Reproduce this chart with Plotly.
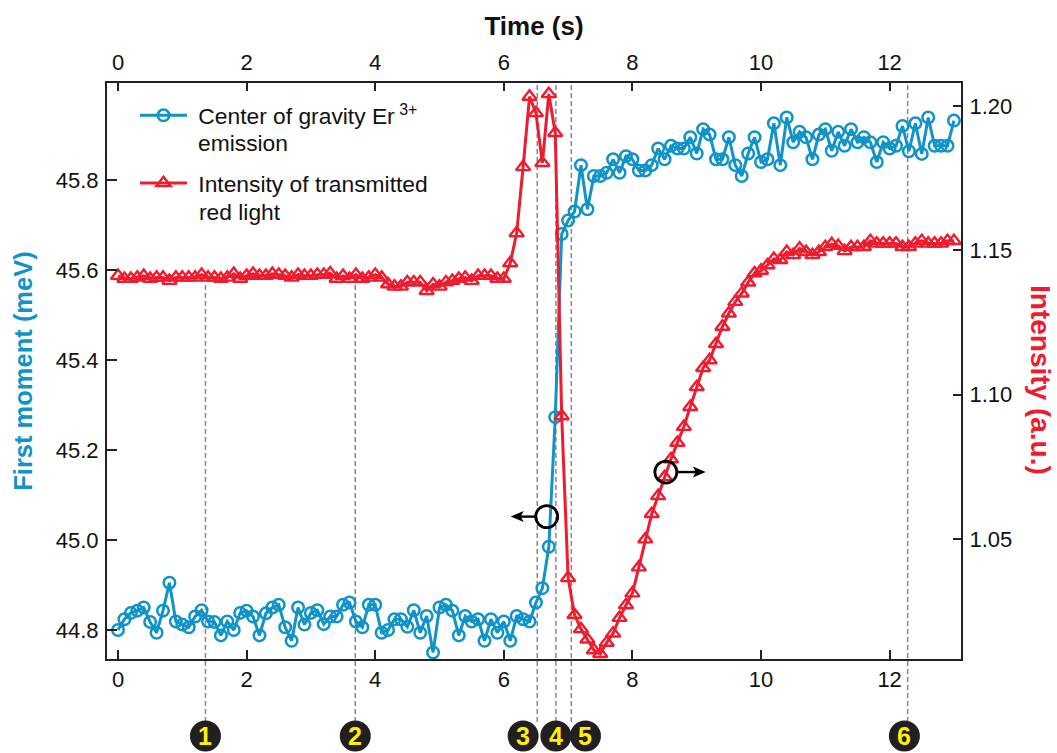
import plotly.graph_objects as go

times = [0.0,0.1,0.2,0.3,0.4,0.5,0.6,0.7,0.8,0.9,1.0,1.1,1.2,1.3,1.4,1.5,1.6,1.7,1.8,1.9,
 2.0,2.1,2.2,2.3,2.4,2.5,2.6,2.7,2.8,2.9,3.0,3.1,3.2,3.3,3.4,3.5,3.6,3.7,3.8,3.9,
 4.0,4.1,4.2,4.3,4.4,4.5,4.6,4.7,4.8,4.9,5.0,5.1,5.2,5.3,5.4,5.5,5.6,5.7,5.8,5.9,
 6.0,6.1,6.2,6.3,6.4,6.5,6.6,6.7,6.8,6.9,7.0,7.1,7.2,7.3,7.4,7.5,7.6,7.7,7.8,7.9,
 8.0,8.1,8.2,8.3,8.4,8.5,8.6,8.7,8.8,8.9,9.0,9.1,9.2,9.3,9.4,9.5,9.6,9.7,9.8,9.9,
 10.0,10.1,10.2,10.3,10.4,10.5,10.6,10.7,10.8,10.9,11.0,11.1,11.2,11.3,11.4,11.5,11.6,11.7,11.8,11.9,
 12.0,12.1,12.2,12.3,12.4,12.5,12.6,12.7,12.8,12.9,13.0]

first_moment = [44.80,44.824,44.838,44.843,44.85,44.818,44.794,44.843,44.905,44.819,44.812,44.806,44.83,44.844,44.819,44.818,44.788,44.819,44.80,44.838,
 44.843,44.83,44.788,44.837,44.85,44.856,44.806,44.776,44.85,44.812,44.838,44.844,44.813,44.83,44.83,44.856,44.861,44.819,44.806,44.856,
 44.856,44.794,44.80,44.824,44.824,44.807,44.844,44.794,44.831,44.75,44.85,44.856,44.843,44.788,44.831,44.819,44.824,44.776,44.824,44.794,
 44.819,44.776,44.831,44.824,44.819,44.861,44.893,44.985,45.273,45.68,45.71,45.73,45.833,45.735,45.809,45.809,45.816,45.846,45.816,45.853,
 45.846,45.821,45.821,45.833,45.87,45.846,45.876,45.87,45.87,45.895,45.859,45.913,45.901,45.846,45.846,45.895,45.833,45.809,45.859,45.895,
 45.84,45.846,45.926,45.833,45.939,45.884,45.907,45.895,45.846,45.901,45.913,45.865,45.907,45.876,45.913,45.884,45.895,45.884,45.84,45.884,
 45.87,45.876,45.92,45.864,45.926,45.858,45.939,45.876,45.876,45.876,45.932]

intensity = [1.1412,1.1402,1.1402,1.1406,1.1412,1.1402,1.1406,1.1406,1.1395,1.1406,1.1406,1.1406,1.1406,1.1416,1.1406,1.1406,1.1402,1.1406,1.1419,1.1402,
 1.1412,1.1419,1.1412,1.1412,1.1419,1.1416,1.1412,1.1406,1.1416,1.1412,1.1412,1.1416,1.1416,1.1421,1.1402,1.1412,1.1402,1.1416,1.1402,1.1406,
 1.1416,1.1406,1.1383,1.1375,1.1375,1.139,1.139,1.139,1.136,1.1383,1.1375,1.139,1.1395,1.1402,1.1406,1.1395,1.1412,1.1412,1.1412,1.1402,
 1.1402,1.1456,1.156,1.1789,1.2033,1.1976,1.1803,1.2042,1.1907,1.0926,1.0365,1.0237,1.0188,1.0152,1.0115,1.0102,1.0141,1.0173,1.0227,1.0271,
 1.0312,1.0402,1.0499,1.0587,1.0649,1.0715,1.0777,1.0834,1.0889,1.0958,1.1027,1.1093,1.112,1.1176,1.1236,1.1282,1.1322,1.1351,1.1389,1.1421,
 1.143,1.1449,1.1471,1.1467,1.1495,1.1484,1.1507,1.1495,1.1484,1.1495,1.1512,1.1522,1.1516,1.1498,1.1512,1.1512,1.1512,1.1533,1.1524,1.1524,
 1.1524,1.1524,1.1512,1.1512,1.1524,1.1533,1.1524,1.1524,1.1524,1.1533,1.1533]

time_ticks = [0, 2, 4, 6, 8, 10, 12]
moment_ticks = [44.8, 45.0, 45.2, 45.4, 45.6, 45.8]
intensity_ticks = [1.05, 1.10, 1.15, 1.20]

event_times = [1.36, 3.69, 6.52, 6.81, 7.05, 12.28]
event_tops = [0.653, 0.653, 1.0, 1.0, 1.0, 1.0]
badge_labels = ["1", "2", "3", "4", "5", "6"]
badge_times = [1.36, 3.69, 6.30, 6.81, 7.27, 12.23]

BLUE = "#0f93c8"
RED = "#ee1c2e"
INK = "#222222"
FONT = "Liberation Sans"

W, H = 1057, 753
L, R, T, B = 107, 961, 83, 659
PW, PH = R - L, B - T

fig = go.Figure()
fig.add_trace(go.Scatter(
    x=times, y=first_moment, xaxis="x", yaxis="y", mode="lines+markers",
    name="\u00a0Center of gravity Er<sup> 3+</sup>", legendgroup="a",
    line=dict(color=BLUE, width=3),
    marker=dict(symbol="circle-open", size=11.5, color=BLUE, line=dict(width=2.5, color=BLUE)),
    cliponaxis=False,
))
fig.add_trace(go.Scatter(
    x=times, y=intensity, xaxis="x2", yaxis="y2", mode="lines+markers",
    name="\u00a0Intensity of transmitted", legendgroup="b",
    line=dict(color=RED, width=3),
    marker=dict(symbol="triangle-up-open", size=12.5, color=RED, line=dict(width=2.4, color=RED)),
    cliponaxis=False,
))

xrange_ = [-0.171, 13.11]
common = dict(showgrid=False, zeroline=False, showline=True, linecolor=INK, linewidth=2,
              ticks="inside", tickcolor=INK, tickwidth=1.5, mirror=False,
              tickfont=dict(family=FONT, size=22, color="#111111"))

shapes = []
for t, top in zip(event_times, event_tops):
    shapes.append(dict(type="line", xref="x", yref="paper", x0=t, x1=t,
                       y0=-0.1094, y1=top, layer="below",
                       line=dict(color="#808080", width=1.4, dash="5px,3px")))
for t in badge_times:
    shapes.append(dict(type="circle", xref="x", yref="paper", xsizemode="pixel", ysizemode="pixel",
                       xanchor=t, yanchor=-0.1337, x0=-15.5, x1=15.5, y0=-15.5, y1=15.5,
                       fillcolor="#231f20", line=dict(width=0)))
# open rings with arrows that tie each curve to its axis: (x, y, direction, arrow reach in px)
ring_points = [(6.667, 45.052, -1, 36), (8.52, 45.151, 1, 40)]
for cx, cy, d, reach in ring_points:
    common_ring = dict(xref="x", yref="y", xsizemode="pixel", ysizemode="pixel", xanchor=cx, yanchor=cy)
    shapes.append(dict(type="circle", x0=-11, x1=11, y0=-11, y1=11,
                       line=dict(color="#000000", width=2.8), fillcolor="rgba(0,0,0,0)", **common_ring))
    shapes.append(dict(type="line", x0=d * 11, x1=d * (reach - 7), y0=0, y1=0,
                       line=dict(color="#000000", width=2.4), **common_ring))
    shapes.append(dict(type="path",
                       path=f"M {d*reach} 0 L {d*(reach-13)} -5.5 L {d*(reach-10)} 0 L {d*(reach-13)} 5.5 Z",
                       fillcolor="#000000", line=dict(width=0), **common_ring))

annotations = [
    dict(text=f"<b>{lab}</b>", x=t, xref="x", y=-0.1337, yref="paper", showarrow=False,
         font=dict(family=FONT, size=25, color="#fff200"),
         xanchor="center", yanchor="middle")
    for lab, t in zip(badge_labels, badge_times)
]
# second lines of the legend entries
for text, px, py in [("emission", 196, 143), ("red light", 197, 212)]:
    annotations.append(dict(text=text, xref="paper", yref="paper", showarrow=False,
                            x=(px - L) / PW, y=(B - py) / PH, xanchor="left", yanchor="middle",
                            font=dict(family=FONT, size=22.8, color="#111111")))
annotations.append(dict(text="<b>Intensity (a.u.)</b>", textangle=90, xref="paper", yref="paper",
                        showarrow=False, x=(1041 - L) / PW, y=(B - 380) / PH,
                        xanchor="center", yanchor="middle",
                        font=dict(family=FONT, size=28, color=RED)))

fig.update_layout(
    width=W, height=H, autosize=False,
    margin=dict(l=L, r=W - R, t=T, b=H - B, pad=0),
    paper_bgcolor="white", plot_bgcolor="white",
    font=dict(family=FONT, color="#111111"),
    xaxis=dict(range=xrange_, tickvals=time_ticks, ticklen=9, side="bottom", anchor="y", **common),
    xaxis2=dict(range=xrange_, tickvals=time_ticks, ticklen=8, side="top", anchor="y2", overlaying="x",
                ticklabelstandoff=2,
                title=dict(text="<b>Time (s)</b>", font=dict(family=FONT, size=26, color="#111111"), standoff=7),
                **common),
    yaxis=dict(range=[44.7356, 46.0156], tickvals=moment_ticks, tickformat=".1f", ticklen=10, side="left", anchor="x",
               ticklabelstandoff=2,
               title=dict(text="<b>First moment (meV)</b>", font=dict(family=FONT, size=25.5, color=BLUE), standoff=16),
               **common),
    yaxis2=dict(range=[1.00842, 1.208], tickvals=intensity_ticks, tickformat=".2f", ticklen=8, side="right", anchor="x2",
                overlaying="y", ticklabelstandoff=2,
                **common),
    legend=dict(x=(135 - L) / PW, y=(B - 94) / PH, xanchor="left", yanchor="top", bgcolor="rgba(0,0,0,0)",
                font=dict(family=FONT, size=22.8, color="#111111"), itemwidth=47,
                traceorder="grouped", tracegroupgap=35),
    shapes=shapes, annotations=annotations,
)
fig.write_html("out.html", config={"displayModeBar": False}, post_script="document.body.style.margin='0';")
